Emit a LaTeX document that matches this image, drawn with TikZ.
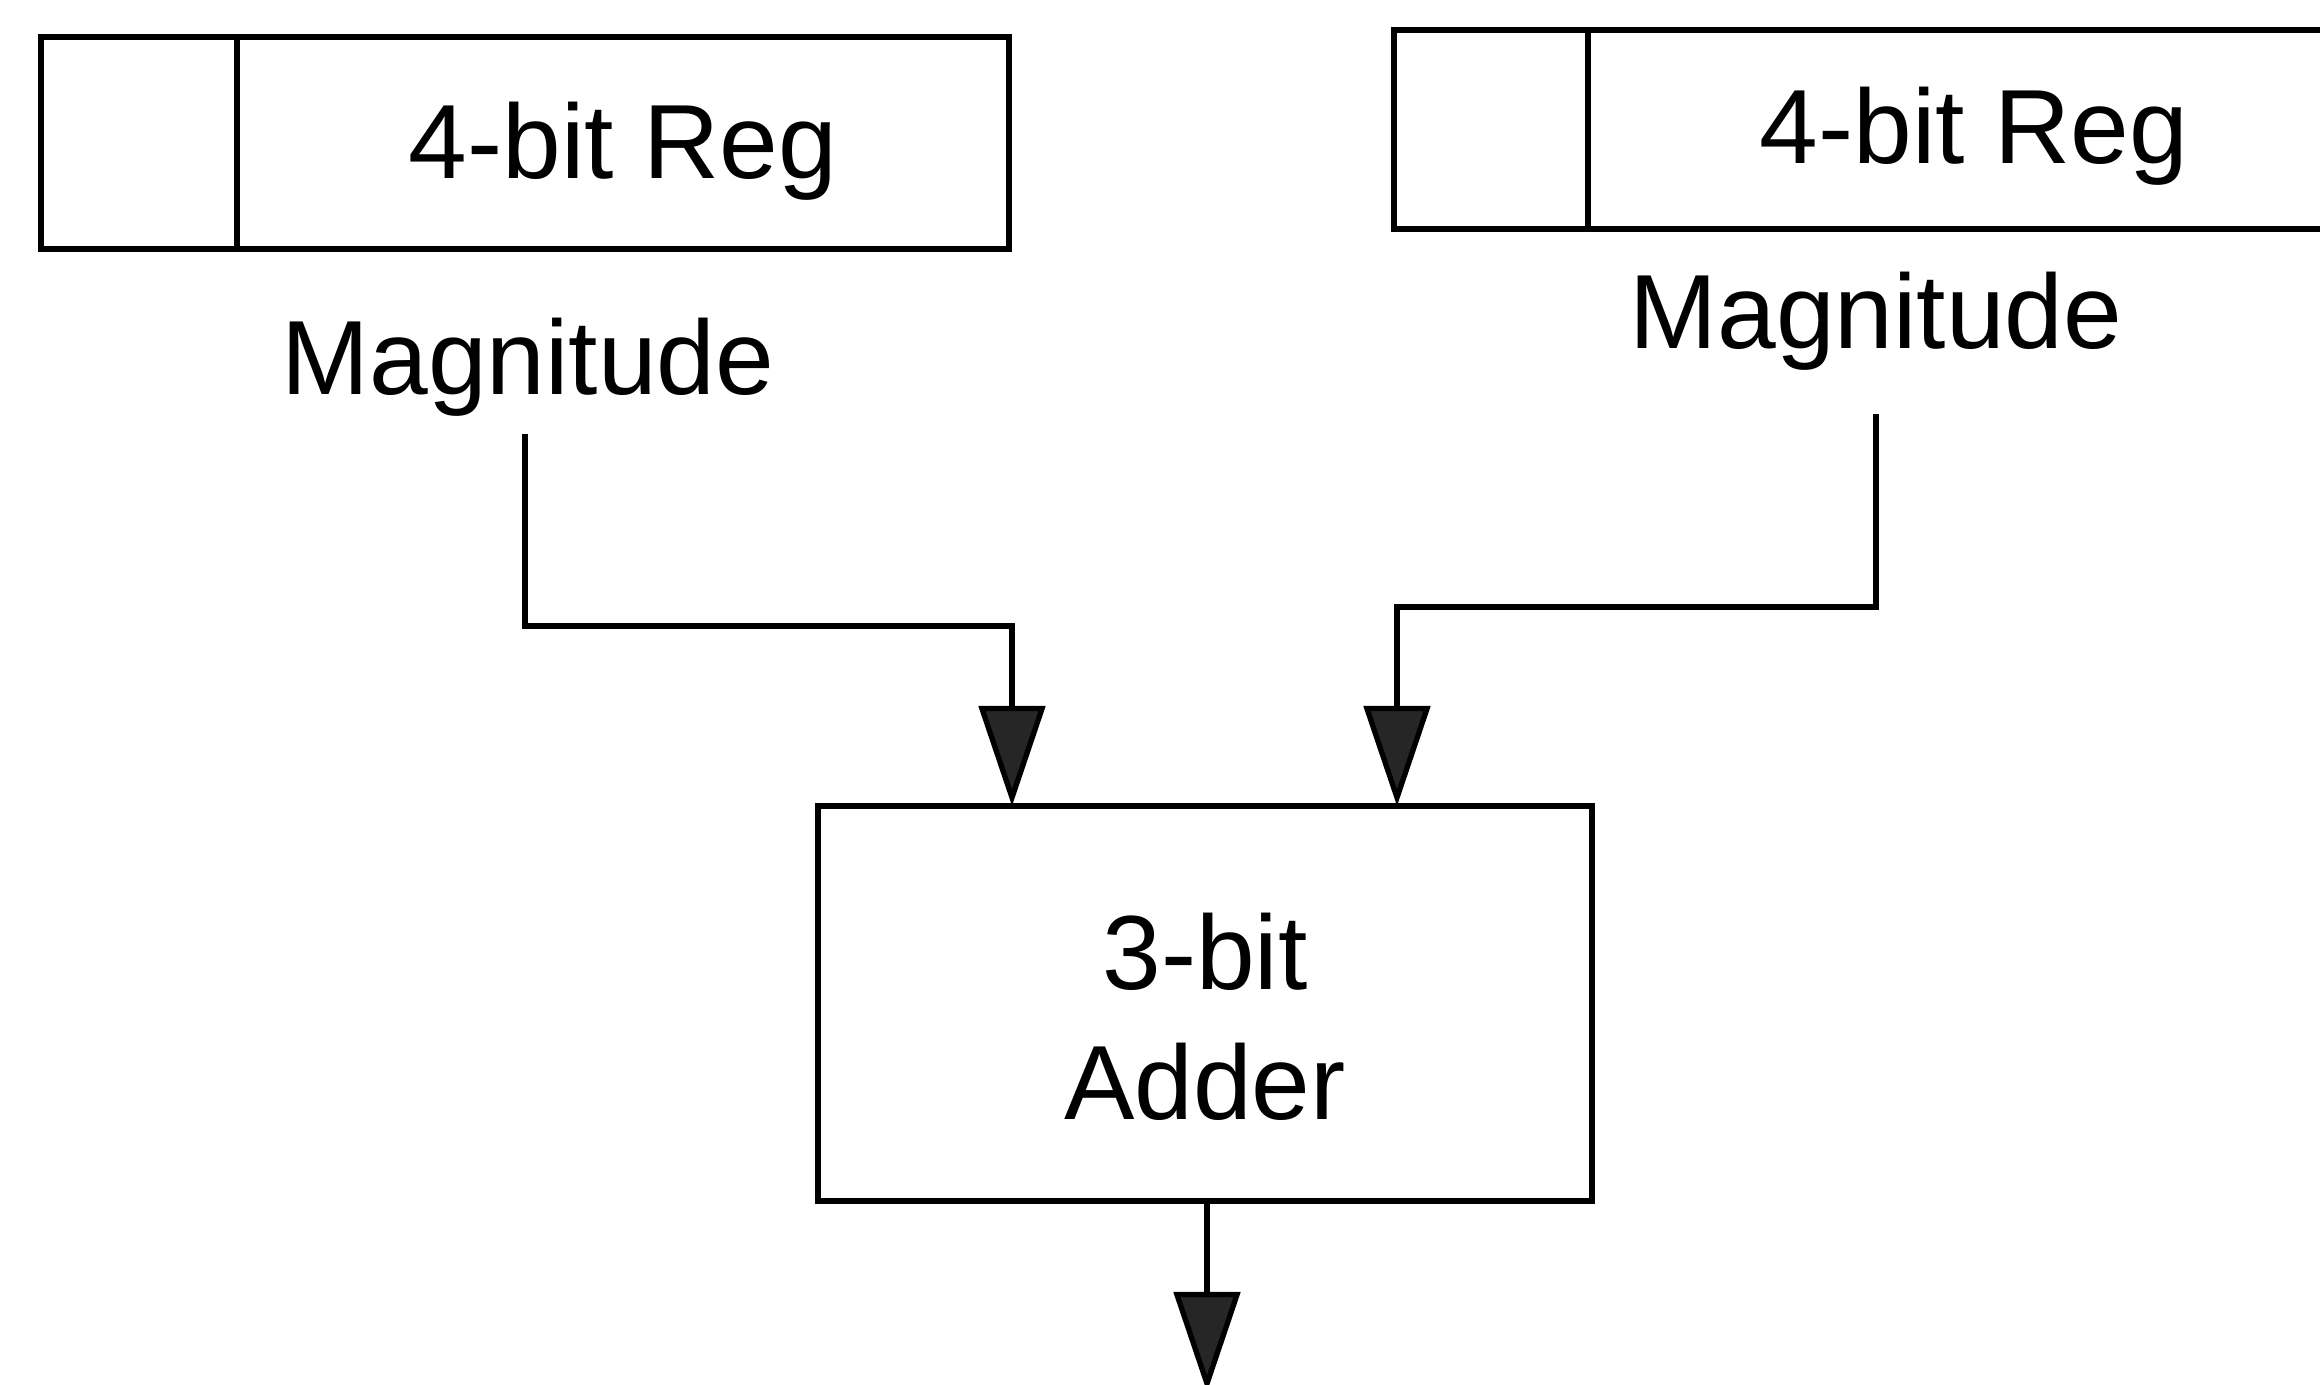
\documentclass[tikz,border=0pt]{standalone}
\usepackage{fontspec}
\setmainfont{Liberation Sans}
\usetikzlibrary{arrows.meta}
\begin{document}
\begin{tikzpicture}[x=0.01cm,y=-0.01cm,
  every node/.style={font=\fontsize{30}{37}\selectfont},
  box/.style={draw, line width=1.6pt, rectangle, inner sep=0pt, align=center},
  lbl/.style={inner sep=0pt},
  arr/.style={line width=1.5pt, -{Triangle[width=0.66cm,length=1.0cm,fill=black!85]}}]
\clip (0,0) rectangle (2320,1384);
\fill[white] (0,0) rectangle (2320,1384);
% left register
\node[box, minimum width=196*0.01cm, minimum height=212*0.01cm] (c1) at (139,143) {};
\node[box, minimum width=772*0.01cm, minimum height=212*0.01cm] (r1) at (623,143) {\raisebox{-10pt}[0pt][0pt]{4-bit Reg}};
% right register
\node[box, minimum width=194*0.01cm, minimum height=199*0.01cm] (c2) at (1491,129.5) {};
\node[box, minimum width=772*0.01cm, minimum height=199*0.01cm] (r2) at (1974,129.5) {\raisebox{-9.6pt}[0pt][0pt]{4-bit Reg}};
% labels
\node[lbl] (m1) at (528,367) {Magnitude};
\node[lbl] (m2) at (1876,321) {Magnitude};
% adder
\node[box, minimum width=774*0.01cm, minimum height=395*0.01cm] (add) at (1205,1003.5) {\raisebox{4.1pt}[0pt][0pt]{\begin{tabular}[t]{c}3-bit\\Adder\end{tabular}}};
% connectors
\coordinate (s1) at (525,434);
\coordinate (s2) at (1876,414);
\coordinate (i1) at (1012,806);
\coordinate (i2) at (1397,806);
\coordinate (o1) at (1207,1392);
\draw[arr] (s1) -- (525,626) -| (i1);
\draw[arr] (s2) -- (1876,607) -| (i2);
\draw[arr] (add.south -| o1) -- (o1);
\end{tikzpicture}
\end{document}
